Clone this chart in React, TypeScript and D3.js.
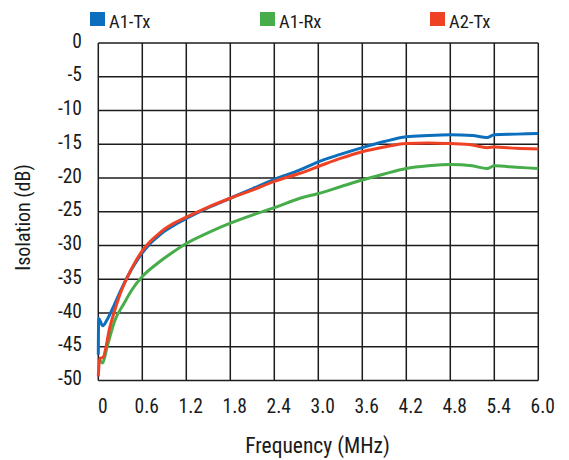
import React from "react";
import * as d3 from "d3";

const xTicks = [0, 0.6, 1.2, 1.8, 2.4, 3.0, 3.6, 4.2, 4.8, 5.4, 6.0];
const yTicks = [0, -5, -10, -15, -20, -25, -30, -35, -40, -45, -50];

const a1TxFreq = [0, 0.005, 0.06, 0.12, 0.23, 0.3, 0.4, 0.5, 0.6, 0.7, 0.8, 0.9, 1.0, 1.2, 1.5, 1.8, 2.1, 2.4, 2.75, 3.0, 3.3, 3.6, 3.9, 4.2, 4.5, 4.8, 5.1, 5.3, 5.4, 5.7, 6.0];
const a1TxVal = [-46.2, -40.8, -41.9, -41.0, -38.5, -36.8, -34.6, -32.7, -31.1, -29.8, -28.8, -27.9, -27.2, -26.0, -24.4, -23.0, -21.6, -20.2, -18.8, -17.6, -16.5, -15.5, -14.6, -13.9, -13.7, -13.6, -13.7, -14.0, -13.6, -13.5, -13.4];

const a1RxFreq = [0.02, 0.06, 0.12, 0.23, 0.35, 0.45, 0.6, 0.8, 1.0, 1.2, 1.5, 1.8, 2.1, 2.4, 2.75, 3.0, 3.3, 3.6, 3.9, 4.2, 4.5, 4.8, 5.1, 5.3, 5.4, 5.7, 6.0];
const a1RxVal = [-47.0, -47.4, -45.0, -41.0, -38.6, -36.7, -34.6, -32.7, -31.1, -29.7, -28.1, -26.7, -25.5, -24.4, -23.0, -22.3, -21.3, -20.3, -19.4, -18.6, -18.2, -18.0, -18.2, -18.6, -18.2, -18.4, -18.6];

const a2TxFreq = [0, 0.02, 0.06, 0.16, 0.23, 0.3, 0.4, 0.5, 0.6, 0.7, 0.8, 0.9, 1.0, 1.2, 1.5, 1.8, 2.1, 2.4, 2.75, 3.0, 3.3, 3.6, 3.9, 4.2, 4.5, 4.8, 5.1, 5.3, 5.4, 5.7, 6.0];
const a2TxVal = [-49.4, -46.7, -46.6, -42.0, -39.4, -37.1, -34.6, -32.5, -30.8, -29.5, -28.5, -27.6, -26.9, -25.8, -24.3, -23.0, -21.8, -20.5, -19.3, -18.3, -17.1, -16.1, -15.4, -14.9, -14.8, -14.9, -15.1, -15.5, -15.4, -15.6, -15.7];

const seriesNames = ["A1-Tx", "A1-Rx", "A2-Tx"];
const seriesColors = ["#0b6fbd", "#47ad4a", "#ef4124"];

const FONT = "'Liberation Sans Narrow', 'Arial Narrow', 'Roboto Condensed', 'Liberation Sans', sans-serif";

export default function App() {
  const W = 569, H = 460;
  const x = d3.scaleLinear().domain([0, 6]).range([98.3, 538.3]);
  const y = d3.scaleLinear().domain([-50, 0]).range([380.5, 43]);

  const series = [
    { name: seriesNames[0], color: seriesColors[0], f: a1TxFreq, v: a1TxVal },
    { name: seriesNames[1], color: seriesColors[1], f: a1RxFreq, v: a1RxVal },
    { name: seriesNames[2], color: seriesColors[2], f: a2TxFreq, v: a2TxVal },
  ];
  const line = d3
    .line<[number, number]>()
    .x((d) => x(d[0]))
    .y((d) => y(d[1]))
    .curve(d3.curveMonotoneX);

  const legendX = [90, 260, 430];
  const drawOrder = [1, 0, 2];

  return (
    <svg
      width={W}
      height={H}
      style={{ position: "fixed", left: 0, top: 0, background: "#fff" }}
      fontFamily={FONT}
    >
      <rect x={0} y={0} width={W} height={H} fill="#fff" />
      {xTicks.map((t) => (
        <line key={"gx" + t} x1={x(t)} x2={x(t)} y1={y(0)} y2={y(-50)} stroke="#1c1c1c" strokeWidth={1.5} />
      ))}
      {yTicks.map((t) => (
        <line key={"gy" + t} x1={x(0)} x2={x(6)} y1={y(t)} y2={y(t)} stroke="#1c1c1c" strokeWidth={1.5} />
      ))}
      {drawOrder.map((i) => {
        const s = series[i];
        const pts = s.f.map((f, j) => [f, s.v[j]] as [number, number]);
        return <path key={s.name} d={line(pts) || ""} fill="none" stroke={s.color} strokeWidth={3} strokeLinejoin="round" />;
      })}
      {xTicks.map((t) => (
        <text key={"xl" + t} x={x(t) + 4.5} y={413} textAnchor="middle" fontSize={19.5} fill="#1a1a1a">
          {t === 0 ? "0" : t.toFixed(1)}
        </text>
      ))}
      {yTicks.map((t) => (
        <text key={"yl" + t} x={82} y={y(t) + 4.5} textAnchor="end" fontSize={19.5} fill="#1a1a1a">
          {String(t)}
        </text>
      ))}
      <text x={317.5} y={453} textAnchor="middle" fontSize={21.5} fill="#1a1a1a">
        Frequency (MHz)
      </text>
      <text transform="translate(30,217.5) rotate(-90)" textAnchor="middle" fontSize={20} fill="#1a1a1a">
        Isolation (dB)
      </text>
      {series.map((s, i) => (
        <g key={"lg" + s.name}>
          <rect x={legendX[i]} y={12} width={15} height={14} fill={s.color} />
          <text x={legendX[i] + 19} y={28.3} fontSize={18.5} fill="#1a1a1a">
            {s.name}
          </text>
        </g>
      ))}
    </svg>
  );
}
